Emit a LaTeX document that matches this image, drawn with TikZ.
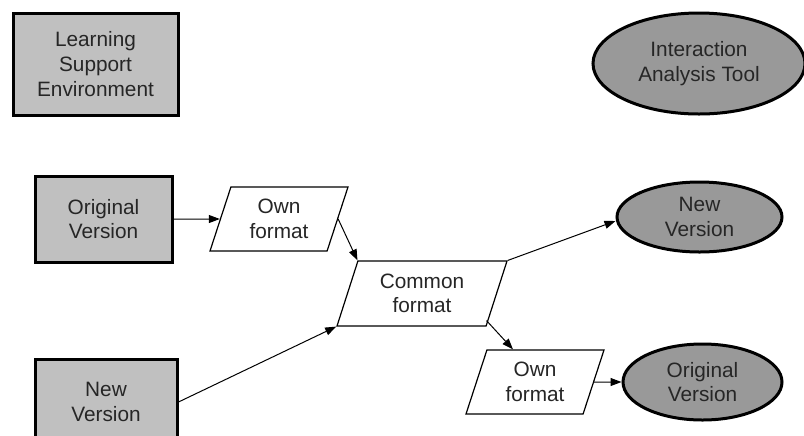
\documentclass[tikz,border=0pt]{standalone}
\usepackage{fontspec}
\setmainfont{Liberation Sans}
\usepackage{tikz}
\usetikzlibrary{shapes.geometric, positioning, arrows.meta}
\definecolor{boxgray}{HTML}{C0C0C0}
\definecolor{toolgray}{HTML}{999999}
\definecolor{txtgray}{HTML}{262626}

\begin{document}
\begin{tikzpicture}[x=0.5pt, y=-0.5pt, ->, >={Triangle[length=5.5pt, width=4pt]}, line width=0.5pt,
    every node/.style={font=\fontsize{10.4}{12.3}\selectfont, text=txtgray, align=center, inner sep=0pt},
    env/.style={rectangle, draw, line width=1.5pt, fill=boxgray},
    tool/.style={ellipse, draw, line width=1.5pt, fill=toolgray},
    fmt/.style={trapezium, trapezium left angle=62, trapezium right angle=118, trapezium stretches body,
      draw, line width=0.6pt, fill=white, minimum width=69pt, minimum height=32pt}]
      \useasboundingbox (0,0) rectangle (804,435);
      \node[env, minimum width=82.5pt, minimum height=51pt] (lse) at (95.5,64) {Learning\\Support\\Environment};
      \node[tool, minimum width=106pt, minimum height=50.5pt] (iat) at (699,63.5) {Interaction\\Analysis Tool};
      \node[env, minimum width=68.5pt, minimum height=43pt] (origbox) at (103.5,219) {Original\\Version};
      \node[env, minimum width=71pt, minimum height=43pt] (newbox) at (106,402) {New\\Version};
      \node[fmt] (ownA) at (279,219) {Own\\format};
      \node[fmt, minimum width=85pt, minimum height=32.5pt] (common) at (422,293.5) {Common\\format};
      \node[fmt] (ownB) at (535,382) {Own\\format};
      \node[tool, minimum width=82.5pt, minimum height=35pt] (newell) at (699.5,217) {New\\Version};
      \node[tool, minimum width=79.5pt, minimum height=38pt] (origell) at (702.5,382) {Original\\Version};
      \path (origbox) edge (ownA);
      \path (ownA.east) edge (common.top left corner);
      \path (newbox.east) edge (common.bottom left corner);
      \path (common.top right corner) edge ([yshift=-2pt]newell.west);
      \path ([yshift=3pt]common.bottom right corner) edge ([xshift=-11pt]ownB.north);
      \path (ownB.east) edge (origell);
    \end{tikzpicture}
\end{document}
